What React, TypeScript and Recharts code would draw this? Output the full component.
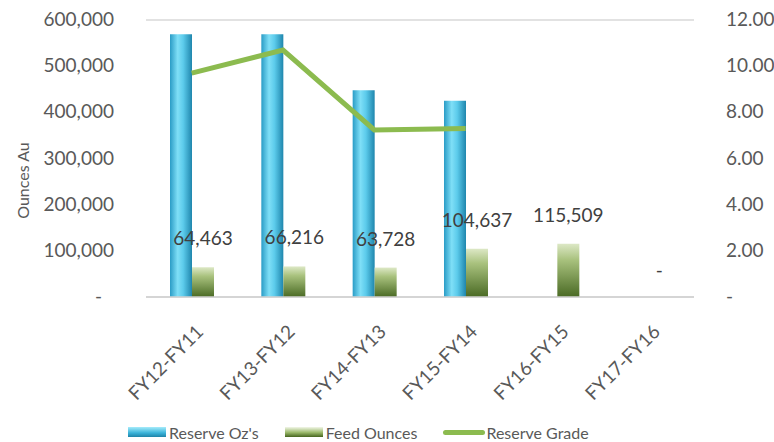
import {
  ComposedChart,
  Bar,
  Line,
  XAxis,
  YAxis,
  CartesianGrid,
  Legend,
  LabelList,
} from "recharts";

const PERIODS = ["FY12-FY11", "FY13-FY12", "FY14-FY13", "FY15-FY14", "FY16-FY15", "FY17-FY16"];
const RESERVE_OZ = [569000, 569000, 448000, 425000, null, null];
const FEED_OUNCES = [64463, 66216, 63728, 104637, 115509, 0];
const RESERVE_GRADE = [9.7, 10.7, 7.24, 7.3, null, null];

const LEFT_TICKS = [0, 100000, 200000, 300000, 400000, 500000, 600000];
const RIGHT_TICKS = [0, 2, 4, 6, 8, 10, 12];

const FONT = "Lato, 'Open Sans', sans-serif";
const TEXT = "#595959";

const data = PERIODS.map((p, i) => ({
  period: p,
  reserve: RESERVE_OZ[i],
  feed: FEED_OUNCES[i],
  // zero feed values get their "-" label from a hidden helper line
  feedZero: FEED_OUNCES[i] === 0 ? 0 : null,
  grade: RESERVE_GRADE[i],
}));

const fmtOz = (v: number) => (v === 0 ? "-" : v.toLocaleString("en-US"));

function LeftTick({ x, y, payload }: any) {
  const zero = payload.value === 0;
  return (
    <text
      x={zero ? x - 12 : x}
      y={y}
      dy={6}
      textAnchor="end"
      fill={TEXT}
      fontSize={19}
      fontFamily={FONT}
    >
      {fmtOz(payload.value)}
    </text>
  );
}

function RightTick({ x, y, payload }: any) {
  return (
    <text x={x} y={y} dy={6} textAnchor="start" fill={TEXT} fontSize={19} fontFamily={FONT}>
      {payload.value === 0 ? "-" : payload.value.toFixed(2)}
    </text>
  );
}

function PeriodTick({ x, y, payload }: any) {
  const tx = x + 13;
  const ty = y + 28;
  return (
    <text
      x={tx}
      y={ty}
      textAnchor="end"
      fill={TEXT}
      fontSize={19}
      fontFamily={FONT}
      transform={`rotate(-45, ${tx}, ${ty})`}
    >
      {payload.value}
    </text>
  );
}

function AxisTitle({ viewBox }: any) {
  const cx = 22;
  const cy = viewBox.y + viewBox.height / 2 + 22;
  return (
    <text
      x={cx}
      y={cy}
      textAnchor="middle"
      dominantBaseline="central"
      fill={TEXT}
      fontSize={16}
      fontFamily={FONT}
      transform={`rotate(-90, ${cx}, ${cy})`}
    >
      Ounces Au
    </text>
  );
}

function ZeroLabel({ x, y, value }: any) {
  if (value == null || x == null || y == null) return null;
  return (
    <text x={x + 11} y={y - 20} textAnchor="middle" fill="#404040" fontSize={19} fontFamily={FONT}>
      -
    </text>
  );
}

function LegendBox() {
  const item = { display: "flex", alignItems: "center", marginRight: 26 } as const;
  return (
    <div
      style={{
        display: "flex",
        justifyContent: "flex-start",
        fontFamily: FONT,
        fontSize: 16,
        color: TEXT,
        paddingLeft: 128,
        height: 20,
        alignItems: "center",
      }}
    >
      <span style={item}>
        <span
          style={{
            width: 38,
            height: 10,
            background: "linear-gradient(to bottom, #a6ecfb, #39b2d8 60%, #1f84a8)",
            marginRight: 3,
          }}
        />
        Reserve Oz's
      </span>
      <span style={item}>
        <span
          style={{
            width: 38,
            height: 10,
            background: "linear-gradient(to bottom, #f2f7e8, #9ab86a 55%, #46651f)",
            marginRight: 3,
          }}
        />
        Feed Ounces
      </span>
      <span style={{ ...item, marginRight: 0 }}>
        <span
          style={{ width: 42, height: 5, borderRadius: 3, background: "#8cbb4f", marginRight: 1 }}
        />
        Reserve Grade
      </span>
    </div>
  );
}

export default function App() {
  return (
    <div style={{ position: "absolute", left: 0, top: 0, background: "#fff" }}>
      <ComposedChart
        width={774}
        height={442}
        data={data}
        margin={{ top: 20, right: 0, bottom: 0, left: 0 }}
        barGap={0}
        barSize={22}
      >
        <defs>
          <linearGradient id="blueBar" x1="0" y1="0" x2="1" y2="0">
            <stop offset="0%" stopColor="#2a9cc6" />
            <stop offset="35%" stopColor="#7fdff7" />
            <stop offset="60%" stopColor="#5ccbeb" />
            <stop offset="100%" stopColor="#1f86ad" />
          </linearGradient>
          <linearGradient id="greenBar" x1="0" y1="0" x2="0" y2="1">
            <stop offset="0%" stopColor="#dde8c6" />
            <stop offset="30%" stopColor="#a9c27e" />
            <stop offset="100%" stopColor="#4a6a24" />
          </linearGradient>
        </defs>
        <CartesianGrid vertical={false} stroke="#d9d9d9" strokeWidth={1.5} />
        <XAxis
          dataKey="period"
          height={125}
          tick={<PeriodTick />}
          tickLine={false}
          axisLine={{ stroke: "#d0d0d0", strokeWidth: 1.5 }}
          interval={0}
        />
        <YAxis
          yAxisId="left"
          width={146}
          domain={[0, 600000]}
          ticks={LEFT_TICKS}
          tick={<LeftTick />}
          tickLine={false}
          axisLine={false}
          tickMargin={26}
          label={<AxisTitle />}
        />
        <YAxis
          yAxisId="right"
          orientation="right"
          width={80}
          domain={[0, 12]}
          ticks={RIGHT_TICKS}
          tick={<RightTick />}
          tickLine={false}
          axisLine={false}
          tickMargin={26}
        />
        <Legend
          verticalAlign="bottom"
          content={<LegendBox />}
          wrapperStyle={{ height: 20 }}
        />
        <Bar yAxisId="left" dataKey="reserve" name="Reserve Oz's" fill="url(#blueBar)" isAnimationActive={false} />
        <Bar yAxisId="left" dataKey="feed" name="Feed Ounces" fill="url(#greenBar)" isAnimationActive={false}>
          <LabelList
            dataKey="feed"
            position="top"
            offset={22}
            formatter={(v: any) => fmtOz(Number(v))}
            style={{ fill: "#404040", fontSize: 19, fontFamily: FONT }}
          />
        </Bar>
        <Line
          yAxisId="left"
          dataKey="feedZero"
          stroke="none"
          dot={false}
          activeDot={false}
          legendType="none"
          isAnimationActive={false}
        >
          <LabelList dataKey="feedZero" content={<ZeroLabel />} />
        </Line>
        <Line
          yAxisId="right"
          dataKey="grade"
          name="Reserve Grade"
          stroke="#8cbb4f"
          strokeWidth={5}
          dot={false}
          activeDot={false}
          connectNulls={false}
          isAnimationActive={false}
        />
      </ComposedChart>
    </div>
  );
}
